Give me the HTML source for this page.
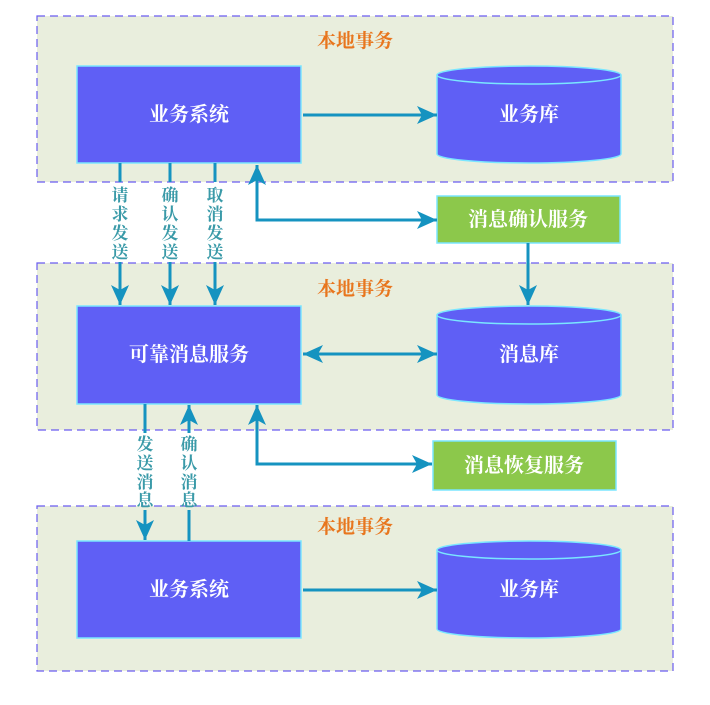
<!DOCTYPE html>
<html><head><meta charset="utf-8"><style>body{margin:0;background:#fff}svg{display:block}text{font-family:"Liberation Serif","Noto Serif CJK SC",serif;font-weight:bold}</style></head><body>
<svg width="710" height="705" viewBox="0 0 710 705" xmlns="http://www.w3.org/2000/svg">
<defs>
<marker id="b" viewBox="0 0 20 18" markerWidth="20" markerHeight="18" refX="20" refY="9" orient="auto-start-reverse" markerUnits="userSpaceOnUse"><path d="M0,0 L20,9 L0,18 L5,9 Z" fill="#1593c0"/></marker></defs>
<g fill="#e9eedd" stroke="#6a5cf0" stroke-width="1.2" stroke-dasharray="8,5">
<rect x="37" y="16" width="636" height="166"/>
<rect x="37" y="263" width="636" height="167"/>
<rect x="37" y="506" width="636" height="165"/>
</g>
<g font-size="19" fill="#e8761e" text-anchor="middle">
<text x="355" y="47">本地事务</text><text x="355" y="295">本地事务</text><text x="355" y="533">本地事务</text>
</g>
<g fill="#5f5ff5" stroke="#7ae6ff" stroke-width="1.5">
<rect x="77" y="66" width="224" height="97"/>
<rect x="77" y="306" width="224" height="98"/>
<rect x="77" y="541" width="224" height="97"/>
<path d="M437,75 A92,9 0 0 1 621,75 V154 A92,9 0 0 1 437,154 Z"/>
<path d="M437,75 A92,9 0 0 0 621,75" fill="none"/>
<path d="M437,315 A92,9 0 0 1 621,315 V395 A92,9 0 0 1 437,395 Z"/>
<path d="M437,315 A92,9 0 0 0 621,315" fill="none"/>
<path d="M437,550 A92,9 0 0 1 621,550 V629 A92,9 0 0 1 437,629 Z"/>
<path d="M437,550 A92,9 0 0 0 621,550" fill="none"/>
</g>
<g fill="#8cc84b" stroke="#7ae6ff" stroke-width="1.5">
<rect x="437" y="196" width="183" height="47"/>
<rect x="433" y="441" width="183" height="49"/>
</g>
<g font-size="20" fill="#fff" text-anchor="middle">
<text x="189" y="121">业务系统</text><text x="529" y="121">业务库</text>
<text x="189" y="361">可靠消息服务</text><text x="529" y="361">消息库</text>
<text x="189" y="596">业务系统</text><text x="529" y="596">业务库</text>
<text x="528" y="226">消息确认服务</text><text x="524" y="472">消息恢复服务</text>
</g>
<g stroke="#1593c0" stroke-width="3" fill="none">
<path d="M303,115 H437" marker-end="url(#b)"/>
<path d="M303,590 H437" marker-end="url(#b)"/>
<path d="M303,354 H437" marker-end="url(#b)" marker-start="url(#b)"/>
<path d="M120,163 V182 M120,262 V305" marker-end="url(#b)"/>
<path d="M170,163 V182 M170,262 V305" marker-end="url(#b)"/>
<path d="M215,163 V182 M215,262 V305" marker-end="url(#b)"/>
<path d="M437,220 H257 V165" marker-end="url(#b)"/>
<path d="M257,220 H437" marker-end="url(#b)"/>
<path d="M528,243 V305" marker-end="url(#b)"/>
<path d="M145,404 V433 M145,510 V540" marker-end="url(#b)"/>
<path d="M189,541 V510 M189,433 V405" marker-end="url(#b)"/>
<path d="M432,464 H257 V405" marker-end="url(#b)"/>
<path d="M257,464 H432" marker-end="url(#b)"/>
</g>
<g font-size="17" fill="#3a9aa8" text-anchor="middle" style="font-weight:normal">
<text x="120" y="201">请</text><text x="120" y="220">求</text><text x="120" y="239">发</text><text x="120" y="258">送</text>
<text x="170" y="201">确</text><text x="170" y="220">认</text><text x="170" y="239">发</text><text x="170" y="258">送</text>
<text x="215" y="201">取</text><text x="215" y="220">消</text><text x="215" y="239">发</text><text x="215" y="258">送</text>
<text x="145" y="450">发</text><text x="145" y="469">送</text><text x="145" y="488">消</text><text x="145" y="506">息</text>
<text x="189" y="450">确</text><text x="189" y="469">认</text><text x="189" y="488">消</text><text x="189" y="506">息</text>
</g>
</svg>
</body></html>
